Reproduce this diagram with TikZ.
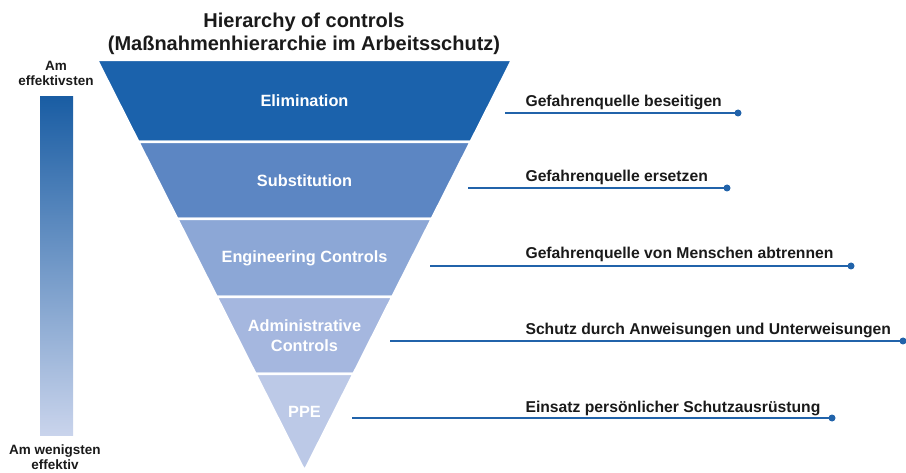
\documentclass[tikz,border=0pt]{standalone}
\usepackage{fontspec}
\setmainfont{Liberation Sans}
\definecolor{cA}{HTML}{1B62AC}
\definecolor{cB}{HTML}{5C86C3}
\definecolor{cC}{HTML}{8CA7D6}
\definecolor{cD}{HTML}{A5B7DF}
\definecolor{cE}{HTML}{BCC9E7}
\definecolor{lineblue}{HTML}{2163AA}
\definecolor{ink}{HTML}{1A1A1A}
\begin{document}
\begin{tikzpicture}[x=1pt,y=-1pt,
  band/.style={draw=white,line width=2.5pt,line join=round},
  bandtext/.style={text=white,font=\bfseries\fontsize{16.3}{20}\selectfont,align=center},
  desc/.style={anchor=base west,text=ink,font=\bfseries\fontsize{15.7}{18}\selectfont},
  leader/.style={draw=lineblue,line width=2pt},
  enddot/.style={circle,fill=lineblue,inner sep=0pt,minimum size=7pt},
  sidetext/.style={text=ink,align=center,font=\bfseries\fontsize{13.5}{15}\selectfont}]
\useasboundingbox (0,0) rectangle (906,473);
% title
\node[text=ink,align=center,font=\bfseries\fontsize{20}{23}\selectfont] (title) at (304,34)
  {Hierarchy of controls\\(Maßnahmenhierarchie im Arbeitsschutz)};
% bands
\path[band,fill=cA] (97,60) -- (512,60) -- (470.6,142) -- (138.4,142) -- cycle;
\path[band,fill=cB] (138.4,142) -- (470.6,142) -- (431.7,219) -- (177.3,219) -- cycle;
\path[band,fill=cC] (177.3,219) -- (431.7,219) -- (392.3,297) -- (216.7,297) -- cycle;
\path[band,fill=cD] (216.7,297) -- (392.3,297) -- (353.5,374) -- (255.5,374) -- cycle;
\path[band,fill=cE] (255.5,374) -- (353.5,374) -- (304.5,471) -- cycle;
\node[bandtext] (elim) at (304.5,101) {Elimination};
\node[bandtext] (subst) at (304.5,181) {Substitution};
\node[bandtext] (eng) at (304.5,258) {Engineering Controls};
\node[bandtext] (adm) at (304.5,336) {Administrative\\Controls};
\node[bandtext] (ppe) at (304.5,412) {PPE};
% left gradient bar
\shade[top color=cA!95!black,bottom color=cE!80!white] (40,97) rectangle (73,435);
\node[sidetext] (most) at (56,73) {Am\\effektivsten};
\node[sidetext] (least) at (55,457) {Am wenigsten\\effektiv};
% leaders
\coordinate (s1) at (505,113); \node[enddot] (d1) at (738,113) {};
\coordinate (s2) at (468,188); \node[enddot] (d2) at (727,188) {};
\coordinate (s3) at (430,266); \node[enddot] (d3) at (851,266) {};
\coordinate (s4) at (390,341); \node[enddot] (d4) at (903,341) {};
\coordinate (s5) at (352,418); \node[enddot] (d5) at (832,418) {};
\draw[leader] (s1) -- (d1.center);
\draw[leader] (s2) -- (d2.center);
\draw[leader] (s3) -- (d3.center);
\draw[leader] (s4) -- (d4.center);
\draw[leader] (s5) -- (d5.center);
\node[desc] (t1) at (522,107) {Gefahrenquelle beseitigen};
\node[desc] (t2) at (522,182) {Gefahrenquelle ersetzen};
\node[desc] (t3) at (522,259) {Gefahrenquelle von Menschen abtrennen};
\node[desc] (t4) at (522,335) {Schutz durch Anweisungen und Unterweisungen};
\node[desc] (t5) at (522,412) {Einsatz persönlicher Schutzausrüstung};
\end{tikzpicture}
\end{document}
